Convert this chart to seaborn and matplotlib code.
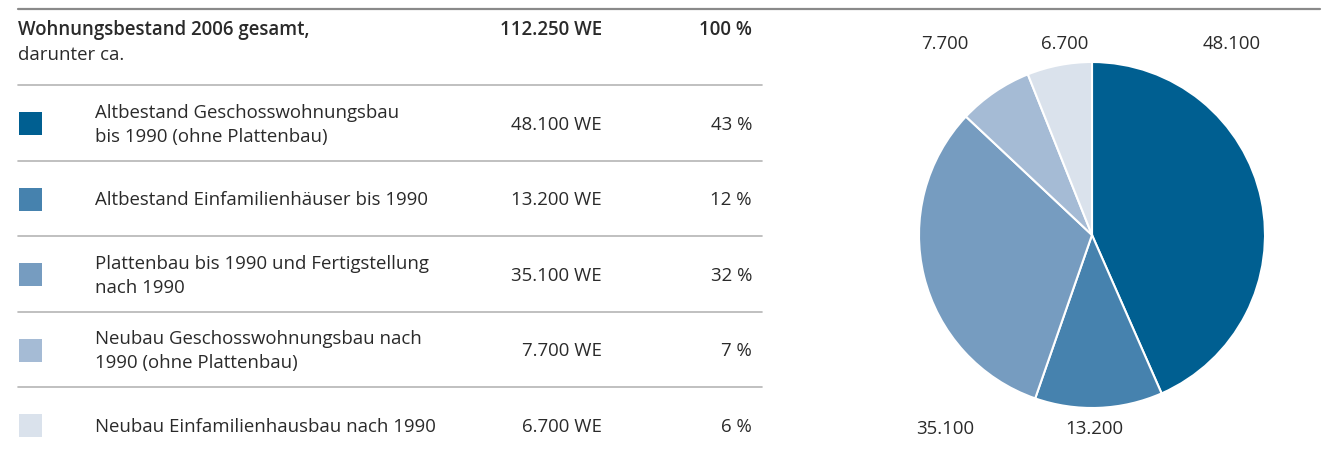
import matplotlib
matplotlib.use("Agg")
import matplotlib.pyplot as plt
import seaborn as sns

# data
categories = [
    "Altbestand Geschosswohnungsbau\nbis 1990 (ohne Plattenbau)",
    "Altbestand Einfamilienhäuser bis 1990",
    "Plattenbau bis 1990 und Fertigstellung\nnach 1990",
    "Neubau Geschosswohnungsbau nach\n1990 (ohne Plattenbau)",
    "Neubau Einfamilienhausbau nach 1990",
]
units = [48100, 13200, 35100, 7700, 6700]
shares = [43, 12, 32, 7, 6]
total_units = 112250
total_share = 100
colors = ["#005f91", "#4682ae", "#769cc0", "#a5bbd5", "#dae2ec"]

sns.set_theme(style="white")
plt.rcParams["font.family"] = ["Open Sans", "DejaVu Sans"]

W, H = 1324, 460
fig = plt.figure(figsize=(W / 100, H / 100), dpi=100)
txt_color = "#2a2a2a"
fs = 13.4


def fmt(v):
    return f"{v:,}".replace(",", ".")


# table background axes (pixel coordinates)
tab = fig.add_axes([0, 0, 1, 1])
tab.set_xlim(0, W)
tab.set_ylim(H, 0)
tab.axis("off")

tab.plot([18, 1320], [10, 10], color="#8a8a8a", lw=1.6)
tab.text(18, 30, "Wohnungsbestand 2006 gesamt,", fontsize=fs, fontweight="semibold",
         color=txt_color, va="center")
tab.text(18, 55, "darunter ca.", fontsize=fs, color=txt_color, va="center")
tab.text(602, 30, fmt(total_units) + " WE", fontsize=fs, fontweight="semibold",
         color=txt_color, va="center", ha="right")
tab.text(752, 30, f"{total_share} %", fontsize=fs, fontweight="semibold",
         color=txt_color, va="center", ha="right")

row_top = 86
row_h = 75.5
for i, (cat, u, s, c) in enumerate(zip(categories, units, shares, colors)):
    y0 = row_top + i * row_h
    tab.plot([18, 762], [y0, y0], color="#b5b5b5", lw=1.2)
    yc = y0 + row_h / 2 + 1
    tab.add_patch(plt.Rectangle((19, yc - 11.5), 23, 23, color=c, lw=0))
    tab.text(95, yc, cat, fontsize=fs, color=txt_color, va="center",
             linespacing=1.42)
    tab.text(602, yc, fmt(u) + " WE", fontsize=fs, color=txt_color,
             va="center", ha="right")
    tab.text(752, yc, f"{s} %", fontsize=fs, color=txt_color,
             va="center", ha="right")

# pie
cx, cy, r = 1092, 236, 173
pie_ax = fig.add_axes([(cx - r) / W, (H - cy - r) / H, 2 * r / W, 2 * r / H])
pie_ax.pie(units, colors=colors, startangle=90, counterclock=False,
           wedgeprops=dict(edgecolor="white", linewidth=1.5))
pie_ax.set_xlim(-1, 1)
pie_ax.set_ylim(-1, 1)
pie_ax.set_aspect("equal")
pie_ax.axis("off")

# value labels around the pie
label_pos = [(1232, 44), (1094, 429), (945, 429), (945, 44), (1065, 44)]
for u, (lx, ly) in zip(units, label_pos):
    tab.text(lx, ly, fmt(u), fontsize=fs, color=txt_color, ha="center",
             va="center")

fig.savefig("out.png", dpi=100)
